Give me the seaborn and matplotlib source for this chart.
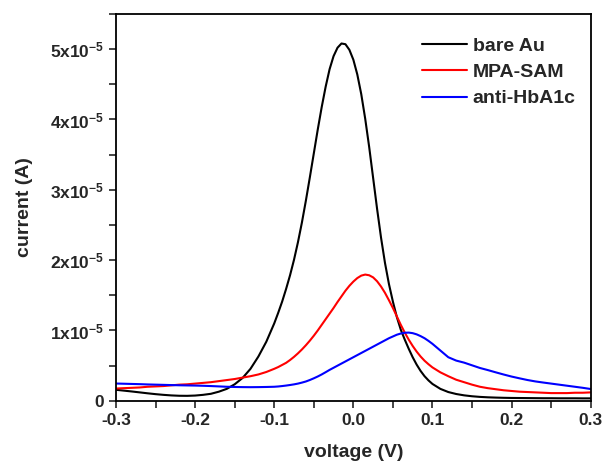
import numpy as np
import pandas as pd
import matplotlib
matplotlib.use("Agg")
import matplotlib.pyplot as plt
import seaborn as sns
from matplotlib.ticker import MultipleLocator, FuncFormatter


# voltage grid (V): 0.01 V steps on the flanks, 0.005 V steps around the peaks
voltage = ([round(-0.30 + 0.01 * i, 3) for i in range(20)]
           + [round(-0.10 + 0.005 * i, 3) for i in range(41)]
           + [round(0.11 + 0.01 * i, 3) for i in range(20)])

# currents in units of 1e-5 A
bare_au = [
    # -0.30 .. -0.11
    0.157, 0.145, 0.133, 0.120, 0.107, 0.095, 0.085, 0.077, 0.072, 0.071,
    0.075, 0.085, 0.100, 0.130, 0.170, 0.235, 0.325, 0.455, 0.630, 0.840,
    # -0.100 .. -0.005
    1.100, 1.250, 1.410, 1.590, 1.785, 2.005, 2.255, 2.535, 2.845, 3.175,
    3.515, 3.855, 4.175, 4.465, 4.715, 4.900, 5.020, 5.080, 5.070, 4.990,
    # 0.000 .. 0.100
    4.850, 4.640, 4.360, 4.010, 3.610, 3.170, 2.730, 2.320, 1.960, 1.660,
    1.410, 1.190, 1.010, 0.870, 0.740, 0.620, 0.515, 0.425, 0.350, 0.290,
    0.240,
    # 0.11 .. 0.30
    0.170, 0.125, 0.097, 0.078, 0.065, 0.056, 0.050, 0.046, 0.043, 0.041,
    0.040, 0.039, 0.038, 0.037, 0.037, 0.036, 0.036, 0.036, 0.035, 0.035,
]

mpa_sam = [
    0.175, 0.180, 0.185, 0.190, 0.200, 0.205, 0.210, 0.220, 0.230, 0.235,
    0.245, 0.255, 0.265, 0.280, 0.295, 0.310, 0.330, 0.350, 0.375, 0.410,
    0.455, 0.480, 0.510, 0.540, 0.580, 0.625, 0.675, 0.730, 0.790, 0.855,
    0.925, 1.000, 1.080, 1.160, 1.240, 1.320, 1.405, 1.485, 1.565, 1.635,
    1.695, 1.745, 1.780, 1.795, 1.785, 1.755, 1.700, 1.625, 1.535, 1.430,
    1.320, 1.200, 1.080, 0.970, 0.870, 0.780, 0.700, 0.630, 0.570, 0.520,
    0.475,
    0.405, 0.350, 0.300, 0.265, 0.230, 0.200, 0.180, 0.165, 0.150, 0.140,
    0.130, 0.125, 0.120, 0.115, 0.110, 0.110, 0.110, 0.115, 0.115, 0.120,
]

anti_hba1c = [
    0.246, 0.243, 0.240, 0.237, 0.233, 0.230, 0.227, 0.224, 0.221, 0.219,
    0.217, 0.214, 0.210, 0.205, 0.200, 0.197, 0.195, 0.194, 0.195, 0.197,
    0.200, 0.204, 0.210, 0.217, 0.225, 0.234, 0.245, 0.259, 0.275, 0.296,
    0.320, 0.346, 0.375, 0.407, 0.440, 0.470, 0.500, 0.530, 0.560, 0.590,
    0.620, 0.650, 0.680, 0.710, 0.740, 0.770, 0.800, 0.830, 0.860, 0.890,
    0.915, 0.940, 0.957, 0.968, 0.970, 0.962, 0.945, 0.920, 0.890, 0.852,
    0.810,
    0.715, 0.620, 0.572, 0.543, 0.505, 0.467, 0.437, 0.405, 0.374, 0.345,
    0.320, 0.296, 0.276, 0.260, 0.245, 0.230, 0.215, 0.200, 0.185, 0.168,
]

labels = ["bare Au", "MPA-SAM", "anti-HbA1c"]
colors = ["#000000", "#ff0000", "#0000ff"]

frames = []
for name, vals in zip(labels, [bare_au, mpa_sam, anti_hba1c]):
    frames.append(pd.DataFrame({"voltage": voltage,
                                "current": np.array(vals) * 1e-5,
                                "sample": name}))
df = pd.concat(frames, ignore_index=True)

sns.set_style("ticks")
plt.rcParams["font.family"] = ["Liberation Sans", "DejaVu Sans"]
plt.rcParams["font.weight"] = "bold"
plt.rcParams["mathtext.fontset"] = "custom"
plt.rcParams["mathtext.rm"] = "Liberation Sans:bold"
plt.rcParams["mathtext.bf"] = "Liberation Sans:bold"
plt.rcParams["mathtext.it"] = "Liberation Sans:bold"

fig = plt.figure(figsize=(6.04, 4.65), dpi=100)
ax = fig.add_axes([0.192, 0.138, 0.786, 0.832])

sns.lineplot(data=df, x="voltage", y="current", hue="sample",
             palette=dict(zip(labels, colors)), sort=False,
             linewidth=1.5, ax=ax)

ax.set_xlim(-0.3, 0.3)
ax.set_ylim(0, 5.5e-5)
ax.xaxis.set_major_locator(MultipleLocator(0.1))
ax.xaxis.set_minor_locator(MultipleLocator(0.05))
ax.yaxis.set_major_locator(MultipleLocator(1e-5))
ax.yaxis.set_minor_locator(MultipleLocator(0.5e-5))


def yfmt(v, pos):
    n = int(round(v / 1e-5))
    if n == 0:
        return "0"
    return r"$\mathbf{%dx10^{-5}}$" % n


ax.xaxis.set_major_formatter(FuncFormatter(lambda v, p: "%.1f" % v))
ax.yaxis.set_major_formatter(FuncFormatter(yfmt))
ax.tick_params(which="both", direction="out", length=5, width=1.2,
               labelsize=12.5, top=False, right=False)
for lab in ax.get_xticklabels() + ax.get_yticklabels():
    lab.set_fontweight("bold")
for s in ax.spines.values():
    s.set_linewidth(1.3)
    s.set_color("black")

ax.set_xlabel("voltage (V)", fontsize=14, fontweight="bold", labelpad=12)
ax.set_ylabel("current (A)", fontsize=14, fontweight="bold", labelpad=12)

leg = ax.legend(loc="upper right", frameon=False, fontsize=14,
                handlelength=2.3, handletextpad=0.3, labelspacing=0.45,
                borderpad=0, borderaxespad=0,
                bbox_to_anchor=(0.968, 0.94), title=None)
for t in leg.get_texts():
    t.set_fontweight("bold")

fig.savefig("out.png", dpi=100)
